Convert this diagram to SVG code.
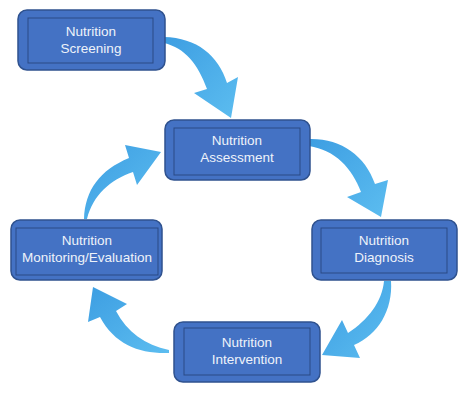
<svg xmlns="http://www.w3.org/2000/svg" width="474" height="401" viewBox="0 0 474 401">
<defs>
<linearGradient id="ag" x1="0" y1="0" x2="1" y2="1">
<stop offset="0" stop-color="#3d9ee2"/>
<stop offset="1" stop-color="#5cbdf0"/>
</linearGradient>
<style>
.outer{fill:#4472c4;stroke:#2f528f;stroke-width:1.5}
.inner{fill:none;stroke:#2a4a85;stroke-width:1}
.lbl{font-family:"Liberation Sans",Arial,sans-serif;font-size:13.5px;fill:#eef2fa;text-anchor:middle}
.arrow{fill:url(#ag)}
</style>
</defs>
<rect width="474" height="401" fill="#ffffff"/>
<g id="connectors">
<path class="arrow" d="M164,37 C197,38 218,55 227,83 L238,77 L231,118 L194,93 L207,89 C198,64 185,48 164,43 Z"/>
<path class="arrow" d="M309,139 C340,138 365,155 375,184 L388,180 L381,217 L347,197 L361,192 C352,168 335,150 309,146 Z"/>
<path class="arrow" d="M384,281 L391,281 C393,310 378,335 354,345 L360,358 L322,355 L342,320 L348,333 C368,320 382,302 384,281 Z"/>
<path class="arrow" d="M169,350 C145,345 127,332 116,311 L127,304 L93,287 L88,322 L100,317 C115,345 140,354 169,353 Z"/>
<path class="arrow" d="M84,219 C85,190 100,170 129,158 L125,145 L161,152 L137,185 L133,172 C110,180 93,195 87,219 Z"/>
</g>
<g id="screening">
<rect class="outer" x="18" y="10" width="147" height="60" rx="9"/>
<rect class="inner" x="28" y="18" width="125" height="45"/>
<text class="lbl" x="91" y="36">Nutrition</text>
<text class="lbl" x="91" y="53">Screening</text>
</g>
<g id="assessment">
<rect class="outer" x="165" y="120" width="145" height="60" rx="9"/>
<rect class="inner" x="174" y="128" width="126" height="47"/>
<text class="lbl" x="237" y="145">Nutrition</text>
<text class="lbl" x="237" y="162">Assessment</text>
</g>
<g id="diagnosis">
<rect class="outer" x="312" y="220" width="145" height="60" rx="9"/>
<rect class="inner" x="321" y="228" width="126" height="45"/>
<text class="lbl" x="384" y="245">Nutrition</text>
<text class="lbl" x="384" y="262">Diagnosis</text>
</g>
<g id="intervention">
<rect class="outer" x="174" y="322" width="146" height="60" rx="9"/>
<rect class="inner" x="184" y="328" width="126" height="47"/>
<text class="lbl" x="247" y="347">Nutrition</text>
<text class="lbl" x="247" y="364">Intervention</text>
</g>
<g id="monitoring">
<rect class="outer" x="11" y="220" width="151" height="60" rx="9"/>
<rect class="inner" x="16" y="228" width="142" height="47"/>
<text class="lbl" x="87" y="245">Nutrition</text>
<text class="lbl" x="87" y="262">Monitoring/Evaluation</text>
</g>
</svg>
